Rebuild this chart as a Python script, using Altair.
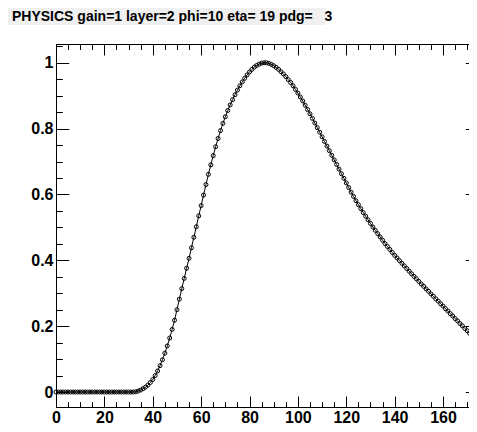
import altair as alt
import pandas as pd

title_text = "PHYSICS gain=1 layer=2 phi=10 eta=\u00a019 pdg=\u00a0\u00a0\u00a03"

times = list(range(0, 175))
values = [
    0.000, 0.000, 0.000, 0.000, 0.000, 0.000, 0.000, 0.000, 0.000, 0.000,
    0.000, 0.000, 0.000, 0.000, 0.000, 0.000, 0.000, 0.000, 0.000, 0.000,
    0.000, 0.000, 0.000, 0.000, 0.000, 0.000, 0.000, 0.000, 0.000, 0.000,
    0.000, 0.000, 0.000, 0.001, 0.003, 0.006, 0.010, 0.015, 0.021, 0.029,
    0.038, 0.050, 0.064, 0.080, 0.098, 0.118, 0.140, 0.164, 0.190, 0.218,
    0.250, 0.282, 0.314, 0.345, 0.376, 0.406, 0.438, 0.470, 0.502, 0.535,
    0.566, 0.598, 0.630, 0.661, 0.690, 0.718, 0.745, 0.770, 0.794, 0.816,
    0.836, 0.855, 0.872, 0.888, 0.903, 0.917, 0.930, 0.942, 0.953, 0.963,
    0.972, 0.980, 0.987, 0.992, 0.996, 0.999, 1.000, 1.000, 0.998, 0.995,
    0.991, 0.986, 0.980, 0.973, 0.966, 0.958, 0.949, 0.940, 0.930, 0.919,
    0.908, 0.896, 0.884, 0.871, 0.858, 0.845, 0.831, 0.817, 0.803, 0.789,
    0.775, 0.761, 0.747, 0.733, 0.719, 0.705, 0.691, 0.677, 0.663, 0.649,
    0.635, 0.621, 0.607, 0.594, 0.581, 0.569, 0.557, 0.545, 0.534, 0.523,
    0.512, 0.501, 0.491, 0.481, 0.471, 0.461, 0.451, 0.442, 0.433, 0.424,
    0.415, 0.407, 0.399, 0.391, 0.383, 0.375, 0.367, 0.359, 0.351, 0.344,
    0.336, 0.328, 0.321, 0.313, 0.306, 0.298, 0.291, 0.283, 0.276, 0.268,
    0.261, 0.253, 0.246, 0.238, 0.231, 0.223, 0.216, 0.208, 0.201, 0.193,
    0.186, 0.178, 0.171, 0.163, 0.156,
]

x_major = [0, 20, 40, 60, 80, 100, 120, 140, 160]
x_minor = [0, 5, 10, 15, 20, 25, 30, 35, 40, 45, 50, 55, 60, 65, 70, 75, 80, 85,
           90, 95, 100, 105, 110, 115, 120, 125, 130, 135, 140, 145, 150, 155,
           160, 165, 170]
y_major = [0, 0.2, 0.4, 0.6, 0.8, 1.0]
y_minor = [0, 0.05, 0.1, 0.15, 0.2, 0.25, 0.3, 0.35, 0.4, 0.45, 0.5, 0.55, 0.6,
           0.65, 0.7, 0.75, 0.8, 0.85, 0.9, 0.95, 1.0, 1.05]

W = 422
H = 363
X_DOMAIN = [0, 174.45]
Y_DOMAIN = [-0.0455, 1.057]
FONT = "Liberation Sans"

df = pd.DataFrame({"t": times, "v": values})

xs = alt.Scale(domain=X_DOMAIN, nice=False, zero=False)
ys = alt.Scale(domain=Y_DOMAIN, nice=False, zero=False)


def tick_axis(orient, vals, size, offset, domain=False):
    return alt.Axis(
        orient=orient, values=vals, tickSize=size, offset=offset,
        labels=False, domain=domain, domainColor="black", domainWidth=1,
        tickColor="black", tickWidth=1, grid=False, title=None,
    )


base = alt.Chart(df)

line = base.mark_line(color="black", strokeWidth=1).encode(
    x=alt.X("t:Q", scale=xs, axis=alt.Axis(
        orient="bottom", values=x_major, ticks=False, labelPadding=2,
        labelFont=FONT, labelFontSize=16, labelFontWeight="bold",
        labelColor="black", domainColor="black", domainWidth=1,
        grid=False, title=None, labelFlush=False, labelOverlap=False)),
    y=alt.Y("v:Q", scale=ys, axis=alt.Axis(
        orient="left", values=y_major, ticks=False, labelPadding=3,
        format="~g", labelFont=FONT, labelFontSize=16,
        labelFontWeight="bold", labelColor="black", domainColor="black",
        domainWidth=1, grid=False, title=None, labelFlush=False,
        labelOverlap=False)),
)

points = base.mark_point(shape="circle", size=16, filled=False,
                         color="black", strokeWidth=1, opacity=1).encode(
    x=alt.X("t:Q", scale=xs, axis=tick_axis("top", x_major, 11, -H)),
    y=alt.Y("v:Q", scale=ys, axis=tick_axis("right", y_major, 12.7, -W)),
)

minor_bl = base.mark_line(opacity=0).encode(
    x=alt.X("t:Q", scale=xs, axis=tick_axis("top", x_minor, 5.5, -H)),
    y=alt.Y("v:Q", scale=ys, axis=tick_axis("right", y_minor, 6.3, -W)),
)

major_tr = base.mark_line(opacity=0).encode(
    x=alt.X("t:Q", scale=xs, axis=tick_axis("bottom", x_major, 11, -H, True)),
    y=alt.Y("v:Q", scale=ys, axis=tick_axis("left", y_major, 12.7, -W, True)),
)

minor_tr = base.mark_line(opacity=0).encode(
    x=alt.X("t:Q", scale=xs, axis=tick_axis("bottom", x_minor, 5.5, -H)),
    y=alt.Y("v:Q", scale=ys, axis=tick_axis("left", y_minor, 6.3, -W)),
)

title_df = pd.DataFrame({"label": [title_text]})
title_box = alt.Chart(title_df).mark_rect(color="#f0f0f0").encode(
    x=alt.value(-48), x2=alt.value(270), y=alt.value(-36), y2=alt.value(-19),
)
title_txt = alt.Chart(title_df).mark_text(
    font=FONT, fontSize=14, fontWeight="bold", color="black",
    align="left", baseline="alphabetic",
).encode(x=alt.value(-44), y=alt.value(-23), text="label:N")

chart = alt.layer(
    title_box, title_txt, line, points, minor_bl, major_tr, minor_tr
).resolve_axis(x="independent", y="independent").properties(
    width=W, height=H,
    padding={"left": 48, "top": 36, "right": -9, "bottom": 17},
    autosize=alt.AutoSizeParams(type="none"),
).configure_view(stroke=None)

chart.save("out.html", embed_options={"renderer": "svg", "actions": False})
